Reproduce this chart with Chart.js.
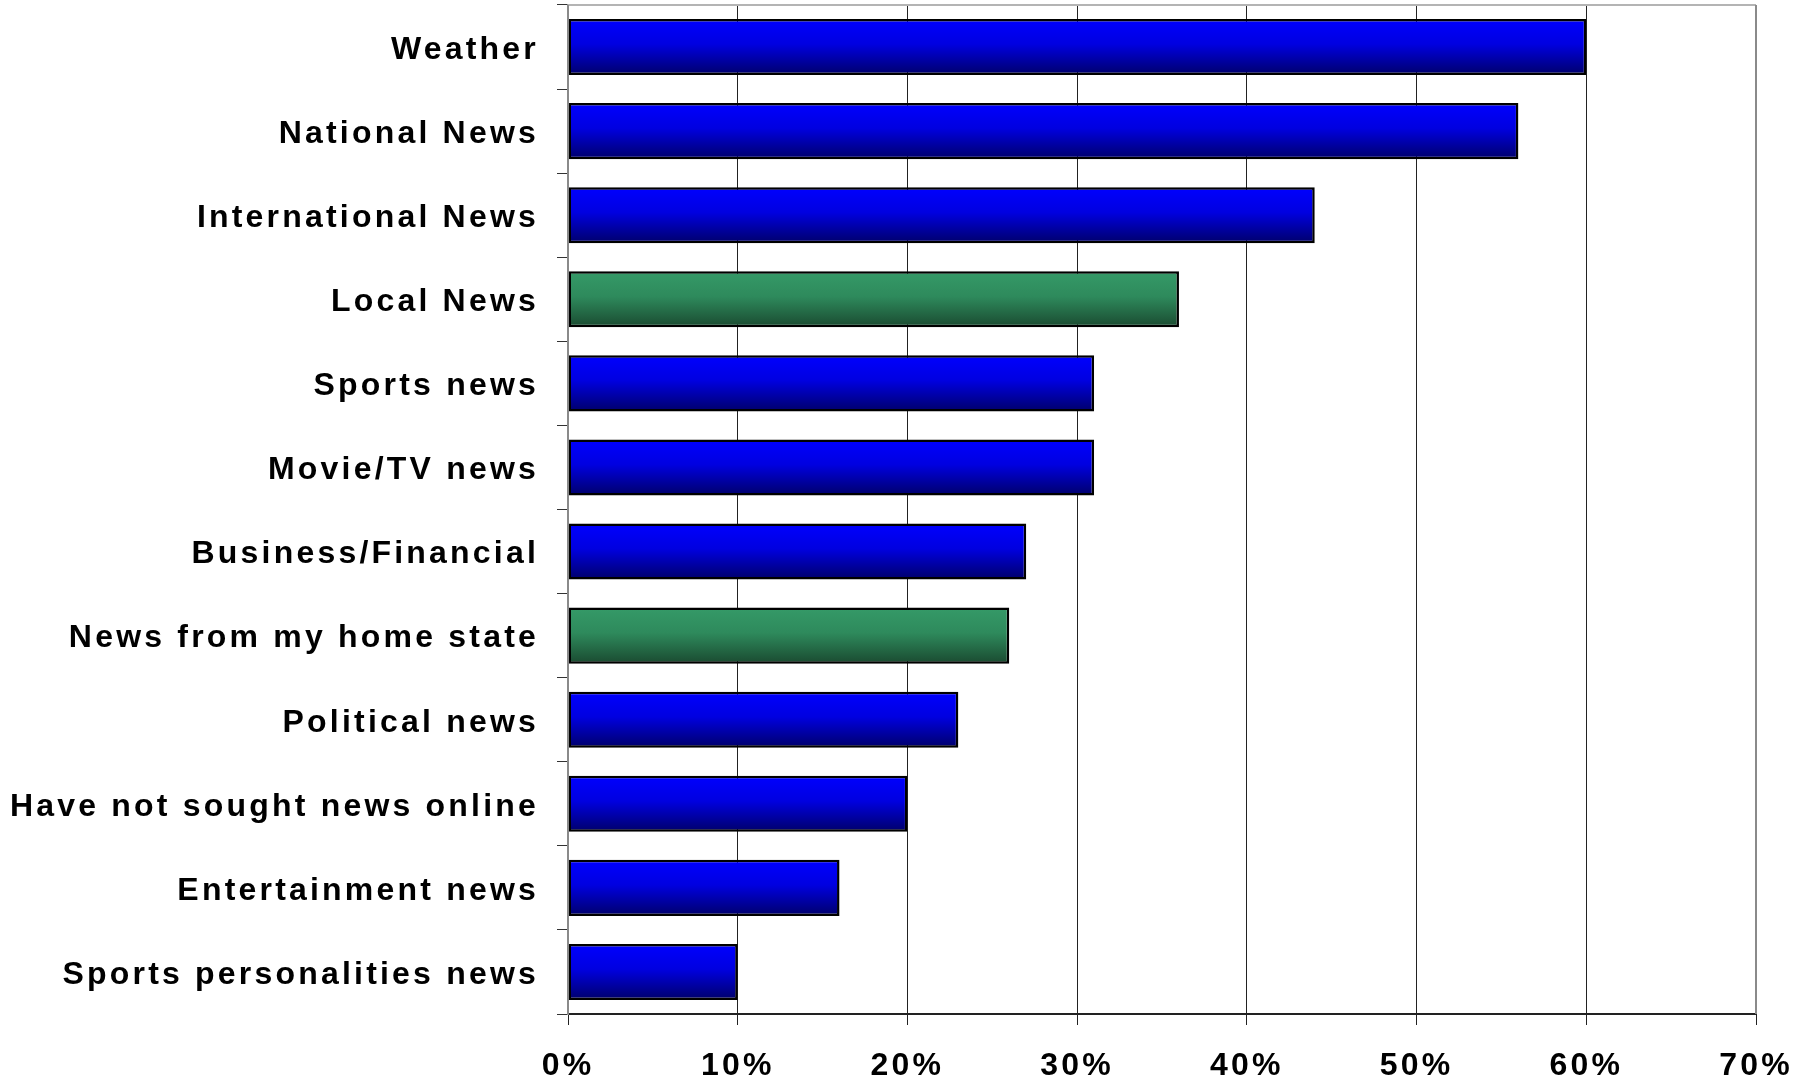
<!DOCTYPE html>
<html>
<head>
<meta charset="utf-8">
<script src="https://cdn.jsdelivr.net/npm/chart.js@4/dist/chart.umd.min.js"></script>
<style>
html,body{margin:0;padding:0;background:#fff;}
canvas{display:block;}
</style>
</head>
<body>
<canvas id="c" width="1811" height="1083"></canvas>
<script>
const categories = ["Weather","National News","International News","Local News","Sports news","Movie/TV news","Business/Financial","News from my home state","Political news","Have not sought news online","Entertainment news","Sports personalities news"];
const values = [60,56,44,36,31,31,27,26,23,20,16,10];
const highlighted = [false,false,false,true,false,false,false,true,false,false,false,false];
const xTickLabels = ["0%","10%","20%","30%","40%","50%","60%","70%"];

const FONT = {family: "'Liberation Sans', Arial, sans-serif", size: 32, weight: 'bold'};
const BAR_PCT = 0.667;

function setSpacing(chart){ chart.ctx.letterSpacing = '3.2px'; }

const spacingPlugin = {
  id: 'spacing',
  beforeLayout(chart){ setSpacing(chart); },
  beforeDraw(chart){ setSpacing(chart); },
  beforeDatasetsDraw(chart){
    const meta = chart.getDatasetMeta(0);
    meta.data.forEach((el, i) => {
      const top = el.y - el.height/2, bot = el.y + el.height/2;
      if (!isFinite(top) || !isFinite(bot)) return;
      const g = chart.ctx.createLinearGradient(0, top, 0, bot);
      if (highlighted[i]) {
        g.addColorStop(0, '#359a68');
        g.addColorStop(0.45, '#2e8a5c');
        g.addColorStop(1, '#1a4a30');
      } else {
        g.addColorStop(0, '#0000ff');
        g.addColorStop(0.45, '#0000e0');
        g.addColorStop(1, '#00006a');
      }
      el.options = Object.assign({}, el.options, {backgroundColor: g});
    });
  },
  afterDraw(chart){
    const {ctx, chartArea:a} = chart;
    ctx.save();
    ctx.lineWidth = 2;
    ctx.strokeStyle = '#b4b4b4';
    ctx.beginPath(); ctx.moveTo(a.left, a.top); ctx.lineTo(a.right, a.top); ctx.stroke();
    ctx.strokeStyle = '#8a8a8a';
    ctx.beginPath(); ctx.moveTo(a.right, a.top); ctx.lineTo(a.right, a.bottom); ctx.stroke();
    ctx.beginPath(); ctx.moveTo(a.left, a.top); ctx.lineTo(a.left, a.bottom); ctx.stroke();
    ctx.restore();
  }
};

new Chart(document.getElementById('c'), {
  type: 'bar',
  data: {
    labels: categories,
    datasets: [{
      data: values,
      backgroundColor: highlighted.map(h => h ? '#2e8a5c' : '#0000e0'),
      borderColor: '#000',
      borderWidth: 2.5,
      borderSkipped: false,
      barPercentage: BAR_PCT,
      categoryPercentage: 1
    }]
  },
  plugins: [spacingPlugin],
  options: {
    indexAxis: 'y',
    responsive: false,
    animation: false,
    devicePixelRatio: 1,
    layout: {padding: {left: 0, top: 5, right: 55, bottom: 0}},
    plugins: {legend: {display: false}, tooltip: {enabled: false}},
    scales: {
      x: {
        min: 0, max: 70,
        ticks: {
          stepSize: 10,
          color: '#000',
          font: FONT,
          padding: 22,
          maxRotation: 0,
          callback: (v, i) => xTickLabels[i]
        },
        grid: {color: '#222', lineWidth: 1, tickLength: 11, drawTicks: true},
        border: {display: true, color: '#222', width: 2},
        afterFit(s){ s.height = 69; s.paddingLeft = 0; s.paddingRight = 0; }
      },
      y: {
        ticks: {color: '#000', font: FONT, padding: 18, autoSkip: false, labelOffset: 3},
        grid: {drawOnChartArea: false, drawTicks: true, tickLength: 11, color: '#333', lineWidth: 1, offset: true},
        border: {display: true, color: '#8a8a8a', width: 2},
        afterFit(s){ s.width = 568; s.paddingTop = 0; s.paddingBottom = 0; }
      }
    }
  }
});
</script>
</body>
</html>
